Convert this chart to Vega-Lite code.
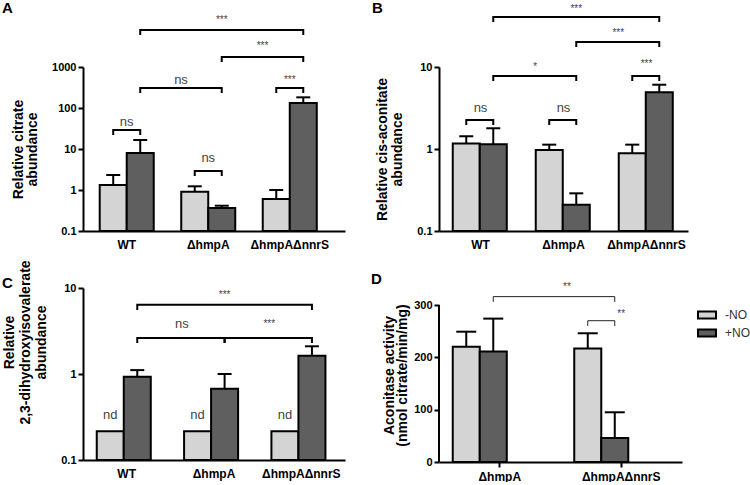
{
 "$schema": "https://vega.github.io/schema/vega-lite/v6.json",
 "padding": {"left": 2, "top": 0, "right": 0, "bottom": 0},
 "background": "white",
 "config": {
  "font": "Liberation Sans",
  "view": {"stroke": null},
  "axis": {"domainColor": "black", "domainWidth": 2, "tickColor": "black", "tickWidth": 2, "tickSize": 5, "labelFont": "Liberation Sans", "labelFontWeight": "bold", "labelFontSize": 11, "labelColor": "black", "labelPadding": 2, "titleFont": "Liberation Sans", "titleFontWeight": "bold", "titleFontSize": 14, "titleColor": "black", "grid": false},
  "axisX": {"ticks": false, "labelFontSize": 12, "labelPadding": 8, "labelAngle": 0},
  "title": {"font": "Liberation Sans", "fontSize": 15, "fontWeight": "bold", "color": "black", "anchor": "start", "frame": "group"}
 },
 "datasets": {
  "bars": [
   {"panel": "A", "group": "WT", "cond": "-NO", "value": 1.32, "upper": 2.32},
   {"panel": "A", "group": "WT", "cond": "+NO", "value": 7.99, "upper": 16.6},
   {"panel": "A", "group": "ΔhmpA", "cond": "-NO", "value": 0.91, "upper": 1.23},
   {"panel": "A", "group": "ΔhmpA", "cond": "+NO", "value": 0.364, "upper": 0.414},
   {"panel": "A", "group": "ΔhmpAΔnnrS", "cond": "-NO", "value": 0.603, "upper": 1.0},
   {"panel": "A", "group": "ΔhmpAΔnnrS", "cond": "+NO", "value": 132, "upper": 182},
   {"panel": "B", "group": "WT", "cond": "-NO", "value": 1.17, "upper": 1.43},
   {"panel": "B", "group": "WT", "cond": "+NO", "value": 1.14, "upper": 1.79},
   {"panel": "B", "group": "ΔhmpA", "cond": "-NO", "value": 0.97, "upper": 1.13},
   {"panel": "B", "group": "ΔhmpA", "cond": "+NO", "value": 0.209, "upper": 0.288},
   {"panel": "B", "group": "ΔhmpAΔnnrS", "cond": "-NO", "value": 0.887, "upper": 1.13},
   {"panel": "B", "group": "ΔhmpAΔnnrS", "cond": "+NO", "value": 4.91, "upper": 6.08},
   {"panel": "C", "group": "WT", "cond": "-NO", "value": 0.216, "upper": null},
   {"panel": "C", "group": "WT", "cond": "+NO", "value": 0.93, "upper": 1.11},
   {"panel": "C", "group": "ΔhmpA", "cond": "-NO", "value": 0.216, "upper": null},
   {"panel": "C", "group": "ΔhmpA", "cond": "+NO", "value": 0.675, "upper": 1.0},
   {"panel": "C", "group": "ΔhmpAΔnnrS", "cond": "-NO", "value": 0.216, "upper": null},
   {"panel": "C", "group": "ΔhmpAΔnnrS", "cond": "+NO", "value": 1.63, "upper": 2.1},
   {"panel": "D", "group": "ΔhmpA", "cond": "-NO", "value": 220, "upper": 249},
   {"panel": "D", "group": "ΔhmpA", "cond": "+NO", "value": 211, "upper": 274},
   {"panel": "D", "group": "ΔhmpAΔnnrS", "cond": "-NO", "value": 217, "upper": 246},
   {"panel": "D", "group": "ΔhmpAΔnnrS", "cond": "+NO", "value": 46, "upper": 95}
  ],
  "axisline": [
   {"panel": "D", "group": "ΔhmpA", "lo": 0, "hi": 300}
  ],
  "brackets": [
   {"panel": "A", "id": "a1", "group": "WT", "cond": "-NO", "y": 21.9, "i": 0},
   {"panel": "A", "id": "a1", "group": "WT", "cond": "-NO", "y": 29.1, "i": 1},
   {"panel": "A", "id": "a1", "group": "WT", "cond": "+NO", "y": 29.1, "i": 2},
   {"panel": "A", "id": "a1", "group": "WT", "cond": "+NO", "y": 21.9, "i": 3},
   {"panel": "A", "id": "a2", "group": "ΔhmpA", "cond": "-NO", "y": 2.19, "i": 0},
   {"panel": "A", "id": "a2", "group": "ΔhmpA", "cond": "-NO", "y": 2.91, "i": 1},
   {"panel": "A", "id": "a2", "group": "ΔhmpA", "cond": "+NO", "y": 2.91, "i": 2},
   {"panel": "A", "id": "a2", "group": "ΔhmpA", "cond": "+NO", "y": 2.19, "i": 3},
   {"panel": "A", "id": "a3", "group": "WT", "cond": "+NO", "y": 232, "i": 0},
   {"panel": "A", "id": "a3", "group": "WT", "cond": "+NO", "y": 307, "i": 1},
   {"panel": "A", "id": "a3", "group": "ΔhmpA", "cond": "+NO", "y": 307, "i": 2},
   {"panel": "A", "id": "a3", "group": "ΔhmpA", "cond": "+NO", "y": 232, "i": 3},
   {"panel": "A", "id": "a4", "group": "ΔhmpAΔnnrS", "cond": "-NO", "y": 232, "i": 0},
   {"panel": "A", "id": "a4", "group": "ΔhmpAΔnnrS", "cond": "-NO", "y": 307, "i": 1},
   {"panel": "A", "id": "a4", "group": "ΔhmpAΔnnrS", "cond": "+NO", "y": 307, "i": 2},
   {"panel": "A", "id": "a4", "group": "ΔhmpAΔnnrS", "cond": "+NO", "y": 232, "i": 3},
   {"panel": "A", "id": "a5", "group": "ΔhmpA", "cond": "+NO", "y": 1324, "i": 0},
   {"panel": "A", "id": "a5", "group": "ΔhmpA", "cond": "+NO", "y": 1754, "i": 1},
   {"panel": "A", "id": "a5", "group": "ΔhmpAΔnnrS", "cond": "+NO", "y": 1754, "i": 2},
   {"panel": "A", "id": "a5", "group": "ΔhmpAΔnnrS", "cond": "+NO", "y": 1324, "i": 3},
   {"panel": "A", "id": "a6", "group": "WT", "cond": "+NO", "y": 6030, "i": 0},
   {"panel": "A", "id": "a6", "group": "WT", "cond": "+NO", "y": 7985, "i": 1},
   {"panel": "A", "id": "a6", "group": "ΔhmpAΔnnrS", "cond": "+NO", "y": 7985, "i": 2},
   {"panel": "A", "id": "a6", "group": "ΔhmpAΔnnrS", "cond": "+NO", "y": 6030, "i": 3},
   {"panel": "B", "id": "b1", "group": "WT", "cond": "-NO", "y": 1.96, "i": 0},
   {"panel": "B", "id": "b1", "group": "WT", "cond": "-NO", "y": 2.26, "i": 1},
   {"panel": "B", "id": "b1", "group": "WT", "cond": "+NO", "y": 2.26, "i": 2},
   {"panel": "B", "id": "b1", "group": "WT", "cond": "+NO", "y": 1.96, "i": 3},
   {"panel": "B", "id": "b2", "group": "ΔhmpA", "cond": "-NO", "y": 1.96, "i": 0},
   {"panel": "B", "id": "b2", "group": "ΔhmpA", "cond": "-NO", "y": 2.26, "i": 1},
   {"panel": "B", "id": "b2", "group": "ΔhmpA", "cond": "+NO", "y": 2.26, "i": 2},
   {"panel": "B", "id": "b2", "group": "ΔhmpA", "cond": "+NO", "y": 1.96, "i": 3},
   {"panel": "B", "id": "b3", "group": "WT", "cond": "+NO", "y": 6.75, "i": 0},
   {"panel": "B", "id": "b3", "group": "WT", "cond": "+NO", "y": 7.77, "i": 1},
   {"panel": "B", "id": "b3", "group": "ΔhmpA", "cond": "+NO", "y": 7.77, "i": 2},
   {"panel": "B", "id": "b3", "group": "ΔhmpA", "cond": "+NO", "y": 6.75, "i": 3},
   {"panel": "B", "id": "b4", "group": "ΔhmpAΔnnrS", "cond": "-NO", "y": 6.75, "i": 0},
   {"panel": "B", "id": "b4", "group": "ΔhmpAΔnnrS", "cond": "-NO", "y": 7.77, "i": 1},
   {"panel": "B", "id": "b4", "group": "ΔhmpAΔnnrS", "cond": "+NO", "y": 7.77, "i": 2},
   {"panel": "B", "id": "b4", "group": "ΔhmpAΔnnrS", "cond": "+NO", "y": 6.75, "i": 3},
   {"panel": "B", "id": "b5", "group": "ΔhmpA", "cond": "+NO", "y": 17.5, "i": 0},
   {"panel": "B", "id": "b5", "group": "ΔhmpA", "cond": "+NO", "y": 20.2, "i": 1},
   {"panel": "B", "id": "b5", "group": "ΔhmpAΔnnrS", "cond": "+NO", "y": 20.2, "i": 2},
   {"panel": "B", "id": "b5", "group": "ΔhmpAΔnnrS", "cond": "+NO", "y": 17.5, "i": 3},
   {"panel": "B", "id": "b6", "group": "WT", "cond": "+NO", "y": 35.4, "i": 0},
   {"panel": "B", "id": "b6", "group": "WT", "cond": "+NO", "y": 40.7, "i": 1},
   {"panel": "B", "id": "b6", "group": "ΔhmpAΔnnrS", "cond": "+NO", "y": 40.7, "i": 2},
   {"panel": "B", "id": "b6", "group": "ΔhmpAΔnnrS", "cond": "+NO", "y": 35.4, "i": 3},
   {"panel": "C", "id": "c1", "group": "WT", "cond": "+NO", "y": 2.29, "i": 0},
   {"panel": "C", "id": "c1", "group": "WT", "cond": "+NO", "y": 2.62, "i": 1},
   {"panel": "C", "id": "c1", "group": "ΔhmpA", "cond": "+NO", "y": 2.62, "i": 2},
   {"panel": "C", "id": "c1", "group": "ΔhmpA", "cond": "+NO", "y": 2.29, "i": 3},
   {"panel": "C", "id": "c2", "group": "ΔhmpA", "cond": "+NO", "y": 2.29, "i": 0},
   {"panel": "C", "id": "c2", "group": "ΔhmpA", "cond": "+NO", "y": 2.62, "i": 1},
   {"panel": "C", "id": "c2", "group": "ΔhmpAΔnnrS", "cond": "+NO", "y": 2.62, "i": 2},
   {"panel": "C", "id": "c2", "group": "ΔhmpAΔnnrS", "cond": "+NO", "y": 2.29, "i": 3},
   {"panel": "C", "id": "c3", "group": "WT", "cond": "+NO", "y": 5.55, "i": 0},
   {"panel": "C", "id": "c3", "group": "WT", "cond": "+NO", "y": 6.4, "i": 1},
   {"panel": "C", "id": "c3", "group": "ΔhmpAΔnnrS", "cond": "+NO", "y": 6.4, "i": 2},
   {"panel": "C", "id": "c3", "group": "ΔhmpAΔnnrS", "cond": "+NO", "y": 5.55, "i": 3},
   {"panel": "D", "id": "d1", "group": "ΔhmpA", "cond": "+NO", "y": 306, "i": 0},
   {"panel": "D", "id": "d1", "group": "ΔhmpA", "cond": "+NO", "y": 316, "i": 1},
   {"panel": "D", "id": "d1", "group": "ΔhmpAΔnnrS", "cond": "+NO", "y": 316, "i": 2},
   {"panel": "D", "id": "d1", "group": "ΔhmpAΔnnrS", "cond": "+NO", "y": 306, "i": 3},
   {"panel": "D", "id": "d2", "group": "ΔhmpAΔnnrS", "cond": "-NO", "y": 260, "i": 0},
   {"panel": "D", "id": "d2", "group": "ΔhmpAΔnnrS", "cond": "-NO", "y": 270, "i": 1},
   {"panel": "D", "id": "d2", "group": "ΔhmpAΔnnrS", "cond": "+NO", "y": 270, "i": 2},
   {"panel": "D", "id": "d2", "group": "ΔhmpAΔnnrS", "cond": "+NO", "y": 260, "i": 3}
  ],
  "labels": [
   {"panel": "A", "kind": "c", "group": "WT", "cond": "-NO", "y": 37.0, "label": "ns"},
   {"panel": "A", "kind": "c", "group": "ΔhmpA", "cond": "-NO", "y": 4.82, "label": "ns"},
   {"panel": "A", "kind": "c", "group": "ΔhmpAΔnnrS", "cond": "-NO", "y": 407, "label": "***"},
   {"panel": "A", "kind": "a", "group": "ΔhmpA", "cond": "-NO", "y": 385, "label": "ns"},
   {"panel": "A", "kind": "a", "group": "ΔhmpAΔnnrS", "cond": "-NO", "y": 2750, "label": "***"},
   {"panel": "A", "kind": "o", "group": "ΔhmpA", "cond": "+NO", "y": 11840, "label": "***"},
   {"panel": "B", "kind": "c", "group": "WT", "cond": "-NO", "y": 2.8, "label": "ns"},
   {"panel": "B", "kind": "c", "group": "ΔhmpA", "cond": "-NO", "y": 2.8, "label": "ns"},
   {"panel": "B", "kind": "c", "group": "ΔhmpAΔnnrS", "cond": "-NO", "y": 10, "label": "***"},
   {"panel": "B", "kind": "a", "group": "ΔhmpA", "cond": "-NO", "y": 9.19, "label": "*"},
   {"panel": "B", "kind": "a", "group": "ΔhmpAΔnnrS", "cond": "-NO", "y": 23.9, "label": "***"},
   {"panel": "B", "kind": "o", "group": "ΔhmpA", "cond": "+NO", "y": 46.8, "label": "***"},
   {"panel": "C", "kind": "o", "group": "WT", "cond": "-NO", "y": 0.3, "label": "nd"},
   {"panel": "C", "kind": "o", "group": "ΔhmpA", "cond": "-NO", "y": 0.3, "label": "nd"},
   {"panel": "C", "kind": "o", "group": "ΔhmpAΔnnrS", "cond": "-NO", "y": 0.3, "label": "nd"},
   {"panel": "C", "kind": "a", "group": "ΔhmpA", "cond": "-NO", "y": 3.4, "label": "ns"},
   {"panel": "C", "kind": "a", "group": "ΔhmpAΔnnrS", "cond": "-NO", "y": 3.52, "label": "***"},
   {"panel": "C", "kind": "o", "group": "ΔhmpA", "cond": "+NO", "y": 7.65, "label": "***"},
   {"panel": "D", "kind": "c", "group": "ΔhmpAΔnnrS", "cond": "-NO", "y": 277, "label": "**"},
   {"panel": "D", "kind": "a", "group": "ΔhmpAΔnnrS", "cond": "-NO", "y": 329, "label": "**"}
  ]
 },
 "bounds": "flush",
 "columns": 2,
 "spacing": {"row": 57, "column": 94},
 "resolve": {"scale": {"fill": "independent"}, "legend": {"fill": "independent"}},
 "concat": [
  {
   "width": 262, "height": 164,
   "title": {"text": "A", "dx": -81, "dy": 5},
   "encoding": {"x": {"field": "group", "type": "nominal", "sort": null, "title": null, "scale": {"domain": ["WT", "ΔhmpA", "ΔhmpAΔnnrS"], "paddingInner": 0, "paddingOuter": 0.107, "align": 0.17}}},
   "layer": [
    {"data": {"name": "bars"}, "transform": [{"filter": "datum.panel === 'A'"}],
     "mark": {"type": "bar", "stroke": "black", "strokeWidth": 2},
     "encoding": {
      "xOffset": {"field": "cond", "type": "nominal", "scale": {"domain": ["-NO", "+NO"], "paddingInner": 0, "paddingOuter": 0.509}},
      "y": {"field": "value", "type": "quantitative", "title": ["Relative citrate", "abundance"], "scale": {"type": "log", "domain": [0.1, 1000], "nice": false}, "axis": {"values": [0.1, 1, 10, 100, 1000], "format": "~g", "titlePadding": 12, "titleLineHeight": 14}},
      "y2": {"datum": 0.1},
      "fill": {"field": "cond", "type": "nominal", "scale": {"domain": ["-NO", "+NO"], "range": ["#d4d4d4", "#5f5f5f"]}, "legend": null}
     }},
    {"data": {"name": "bars"}, "transform": [{"filter": "datum.panel === 'A' && datum.upper != null"}],
     "mark": {"type": "rule", "stroke": "black", "strokeWidth": 2},
     "encoding": {
      "xOffset": {"field": "cond", "type": "nominal", "scale": {"domain": ["-NO", "+NO"], "paddingInner": 0, "paddingOuter": 0.509}},
      "y": {"field": "value", "type": "quantitative", "title": ["Relative citrate", "abundance"], "scale": {"type": "log", "domain": [0.1, 1000], "nice": false}},
      "y2": {"field": "upper"}
     }},
    {"data": {"name": "bars"}, "transform": [{"filter": "datum.panel === 'A' && datum.upper != null"}],
     "mark": {"type": "point", "shape": "M-1,0H1", "size": 196, "stroke": "black", "strokeWidth": 2, "filled": false, "opacity": 1},
     "encoding": {
      "xOffset": {"field": "cond", "type": "nominal", "scale": {"domain": ["-NO", "+NO"], "paddingInner": 0, "paddingOuter": 0.509}},
      "y": {"field": "upper", "type": "quantitative", "title": ["Relative citrate", "abundance"], "scale": {"type": "log", "domain": [0.1, 1000], "nice": false}}
     }},
    {"data": {"name": "brackets"}, "transform": [{"filter": "datum.panel === 'A'"}],
     "mark": {"type": "line", "color": "black", "strokeWidth": 2},
     "encoding": {
      "xOffset": {"field": "cond", "type": "nominal", "scale": {"domain": ["-NO", "+NO"], "paddingInner": 0, "paddingOuter": 0.509}},
      "y": {"field": "y", "type": "quantitative", "title": ["Relative citrate", "abundance"], "scale": {"type": "log", "domain": [0.1, 1000], "nice": false}},
      "detail": {"field": "id"},
      "order": {"field": "i", "type": "quantitative"}
     }},
    {"data": {"name": "labels"}, "transform": [{"filter": "datum.panel === 'A' && datum.kind === 'c'"}],
     "mark": {"type": "text", "baseline": "alphabetic", "color": "#444"},
     "encoding": {
      "y": {"field": "y", "type": "quantitative", "title": ["Relative citrate", "abundance"], "scale": {"type": "log", "domain": [0.1, 1000], "nice": false}},
      "text": {"field": "label"},
      "size": {"condition": {"test": "datum.label === 'ns' || datum.label === 'nd'", "value": 13}, "value": 10}
     }},
    {"data": {"name": "labels"}, "transform": [{"filter": "datum.panel === 'A' && datum.kind === 'o'"}],
     "mark": {"type": "text", "baseline": "alphabetic", "color": "#444"},
     "encoding": {
      "xOffset": {"field": "cond", "type": "nominal", "scale": {"domain": ["-NO", "+NO"], "paddingInner": 0, "paddingOuter": 0.509}},
      "y": {"field": "y", "type": "quantitative", "title": ["Relative citrate", "abundance"], "scale": {"type": "log", "domain": [0.1, 1000], "nice": false}},
      "text": {"field": "label"},
      "size": {"condition": {"test": "datum.label === 'ns' || datum.label === 'nd'", "value": 13}, "value": 10}
     }},
    {"data": {"name": "labels"}, "transform": [{"filter": "datum.panel === 'A' && datum.kind === 'a'"}],
     "mark": {"type": "text", "baseline": "alphabetic", "color": "#444", "dx": -13.75},
     "encoding": {
      "xOffset": {"field": "cond", "type": "nominal", "scale": {"domain": ["-NO", "+NO"], "paddingInner": 0, "paddingOuter": 0.509}},
      "y": {"field": "y", "type": "quantitative", "title": ["Relative citrate", "abundance"], "scale": {"type": "log", "domain": [0.1, 1000], "nice": false}},
      "text": {"field": "label"},
      "size": {"condition": {"test": "datum.label === 'ns' || datum.label === 'nd'", "value": 13}, "value": 10}
     }}
   ]
  },
  {
   "width": 249, "height": 164,
   "title": {"text": "B", "dx": -67, "dy": 16},
   "encoding": {"x": {"field": "group", "type": "nominal", "sort": null, "title": null, "scale": {"domain": ["WT", "ΔhmpA", "ΔhmpAΔnnrS"], "paddingInner": 0, "paddingOuter": 0}}},
   "layer": [
    {"data": {"name": "bars"}, "transform": [{"filter": "datum.panel === 'B'"}],
     "mark": {"type": "bar", "stroke": "black", "strokeWidth": 2},
     "encoding": {
      "xOffset": {"field": "cond", "type": "nominal", "scale": {"domain": ["-NO", "+NO"], "paddingInner": 0, "paddingOuter": 0.509}},
      "y": {"field": "value", "type": "quantitative", "title": ["Relative cis-aconitate", "abundance"], "scale": {"type": "log", "domain": [0.1, 10], "nice": false}, "axis": {"values": [0.1, 1, 10], "format": "~g", "titlePadding": 12, "titleLineHeight": 15}},
      "y2": {"datum": 0.1},
      "fill": {"field": "cond", "type": "nominal", "scale": {"domain": ["-NO", "+NO"], "range": ["#d4d4d4", "#5f5f5f"]}, "legend": null}
     }},
    {"data": {"name": "bars"}, "transform": [{"filter": "datum.panel === 'B' && datum.upper != null"}],
     "mark": {"type": "rule", "stroke": "black", "strokeWidth": 2},
     "encoding": {
      "xOffset": {"field": "cond", "type": "nominal", "scale": {"domain": ["-NO", "+NO"], "paddingInner": 0, "paddingOuter": 0.509}},
      "y": {"field": "value", "type": "quantitative", "title": ["Relative cis-aconitate", "abundance"], "scale": {"type": "log", "domain": [0.1, 10], "nice": false}},
      "y2": {"field": "upper"}
     }},
    {"data": {"name": "bars"}, "transform": [{"filter": "datum.panel === 'B' && datum.upper != null"}],
     "mark": {"type": "point", "shape": "M-1,0H1", "size": 196, "stroke": "black", "strokeWidth": 2, "filled": false, "opacity": 1},
     "encoding": {
      "xOffset": {"field": "cond", "type": "nominal", "scale": {"domain": ["-NO", "+NO"], "paddingInner": 0, "paddingOuter": 0.509}},
      "y": {"field": "upper", "type": "quantitative", "title": ["Relative cis-aconitate", "abundance"], "scale": {"type": "log", "domain": [0.1, 10], "nice": false}}
     }},
    {"data": {"name": "brackets"}, "transform": [{"filter": "datum.panel === 'B'"}],
     "mark": {"type": "line", "color": "black", "strokeWidth": 2},
     "encoding": {
      "xOffset": {"field": "cond", "type": "nominal", "scale": {"domain": ["-NO", "+NO"], "paddingInner": 0, "paddingOuter": 0.509}},
      "y": {"field": "y", "type": "quantitative", "title": ["Relative cis-aconitate", "abundance"], "scale": {"type": "log", "domain": [0.1, 10], "nice": false}},
      "detail": {"field": "id"},
      "order": {"field": "i", "type": "quantitative"}
     }},
    {"data": {"name": "labels"}, "transform": [{"filter": "datum.panel === 'B' && datum.kind === 'c'"}],
     "mark": {"type": "text", "baseline": "alphabetic", "color": "#444"},
     "encoding": {
      "y": {"field": "y", "type": "quantitative", "title": ["Relative cis-aconitate", "abundance"], "scale": {"type": "log", "domain": [0.1, 10], "nice": false}},
      "text": {"field": "label"},
      "size": {"condition": {"test": "datum.label === 'ns' || datum.label === 'nd'", "value": 13}, "value": 10}
     }},
    {"data": {"name": "labels"}, "transform": [{"filter": "datum.panel === 'B' && datum.kind === 'o'"}],
     "mark": {"type": "text", "baseline": "alphabetic", "color": "#444"},
     "encoding": {
      "xOffset": {"field": "cond", "type": "nominal", "scale": {"domain": ["-NO", "+NO"], "paddingInner": 0, "paddingOuter": 0.509}},
      "y": {"field": "y", "type": "quantitative", "title": ["Relative cis-aconitate", "abundance"], "scale": {"type": "log", "domain": [0.1, 10], "nice": false}},
      "text": {"field": "label"},
      "size": {"condition": {"test": "datum.label === 'ns' || datum.label === 'nd'", "value": 13}, "value": 10}
     }},
    {"data": {"name": "labels"}, "transform": [{"filter": "datum.panel === 'B' && datum.kind === 'a'"}],
     "mark": {"type": "text", "baseline": "alphabetic", "color": "#444", "dx": -14},
     "encoding": {
      "xOffset": {"field": "cond", "type": "nominal", "scale": {"domain": ["-NO", "+NO"], "paddingInner": 0, "paddingOuter": 0.509}},
      "y": {"field": "y", "type": "quantitative", "title": ["Relative cis-aconitate", "abundance"], "scale": {"type": "log", "domain": [0.1, 10], "nice": false}},
      "text": {"field": "label"},
      "size": {"condition": {"test": "datum.label === 'ns' || datum.label === 'nd'", "value": 13}, "value": 10}
     }}
   ]
  },
  {
   "width": 262, "height": 172,
   "title": {"text": "C", "dx": -81, "dy": 35},
   "encoding": {"x": {"field": "group", "type": "nominal", "sort": null, "title": null, "scale": {"domain": ["WT", "ΔhmpA", "ΔhmpAΔnnrS"], "paddingInner": 0, "paddingOuter": 0}}},
   "layer": [
    {"data": {"name": "bars"}, "transform": [{"filter": "datum.panel === 'C'"}],
     "mark": {"type": "bar", "stroke": "black", "strokeWidth": 2},
     "encoding": {
      "xOffset": {"field": "cond", "type": "nominal", "scale": {"domain": ["-NO", "+NO"], "paddingInner": 0, "paddingOuter": 0.559}},
      "y": {"field": "value", "type": "quantitative", "title": ["Relative", "2,3-dihydroxyisovalerate", "abundance"], "scale": {"type": "log", "domain": [0.1, 10], "nice": false}, "axis": {"values": [0.1, 1, 10], "format": "~g", "titlePadding": 12, "titleLineHeight": 16, "titleY": 54}},
      "y2": {"datum": 0.1},
      "fill": {"field": "cond", "type": "nominal", "scale": {"domain": ["-NO", "+NO"], "range": ["#d4d4d4", "#5f5f5f"]}, "legend": null}
     }},
    {"data": {"name": "bars"}, "transform": [{"filter": "datum.panel === 'C' && datum.upper != null"}],
     "mark": {"type": "rule", "stroke": "black", "strokeWidth": 2},
     "encoding": {
      "xOffset": {"field": "cond", "type": "nominal", "scale": {"domain": ["-NO", "+NO"], "paddingInner": 0, "paddingOuter": 0.559}},
      "y": {"field": "value", "type": "quantitative", "title": ["Relative", "2,3-dihydroxyisovalerate", "abundance"], "scale": {"type": "log", "domain": [0.1, 10], "nice": false}},
      "y2": {"field": "upper"}
     }},
    {"data": {"name": "bars"}, "transform": [{"filter": "datum.panel === 'C' && datum.upper != null"}],
     "mark": {"type": "point", "shape": "M-1,0H1", "size": 196, "stroke": "black", "strokeWidth": 2, "filled": false, "opacity": 1},
     "encoding": {
      "xOffset": {"field": "cond", "type": "nominal", "scale": {"domain": ["-NO", "+NO"], "paddingInner": 0, "paddingOuter": 0.559}},
      "y": {"field": "upper", "type": "quantitative", "title": ["Relative", "2,3-dihydroxyisovalerate", "abundance"], "scale": {"type": "log", "domain": [0.1, 10], "nice": false}}
     }},
    {"data": {"name": "brackets"}, "transform": [{"filter": "datum.panel === 'C'"}],
     "mark": {"type": "line", "color": "black", "strokeWidth": 2},
     "encoding": {
      "xOffset": {"field": "cond", "type": "nominal", "scale": {"domain": ["-NO", "+NO"], "paddingInner": 0, "paddingOuter": 0.559}},
      "y": {"field": "y", "type": "quantitative", "title": ["Relative", "2,3-dihydroxyisovalerate", "abundance"], "scale": {"type": "log", "domain": [0.1, 10], "nice": false}},
      "detail": {"field": "id"},
      "order": {"field": "i", "type": "quantitative"}
     }},
    {"data": {"name": "labels"}, "transform": [{"filter": "datum.panel === 'C' && datum.kind === 'o'"}],
     "mark": {"type": "text", "baseline": "alphabetic", "color": "#444"},
     "encoding": {
      "xOffset": {"field": "cond", "type": "nominal", "scale": {"domain": ["-NO", "+NO"], "paddingInner": 0, "paddingOuter": 0.559}},
      "y": {"field": "y", "type": "quantitative", "title": ["Relative", "2,3-dihydroxyisovalerate", "abundance"], "scale": {"type": "log", "domain": [0.1, 10], "nice": false}},
      "text": {"field": "label"},
      "size": {"condition": {"test": "datum.label === 'ns' || datum.label === 'nd'", "value": 13}, "value": 10}
     }},
    {"data": {"name": "labels"}, "transform": [{"filter": "datum.panel === 'C' && datum.kind === 'a'"}],
     "mark": {"type": "text", "baseline": "alphabetic", "color": "#444", "dx": -15.67},
     "encoding": {
      "xOffset": {"field": "cond", "type": "nominal", "scale": {"domain": ["-NO", "+NO"], "paddingInner": 0, "paddingOuter": 0.559}},
      "y": {"field": "y", "type": "quantitative", "title": ["Relative", "2,3-dihydroxyisovalerate", "abundance"], "scale": {"type": "log", "domain": [0.1, 10], "nice": false}},
      "text": {"field": "label"},
      "size": {"condition": {"test": "datum.label === 'ns' || datum.label === 'nd'", "value": 13}, "value": 10}
     }}
   ]
  },
  {
   "width": 243, "height": 174,
   "title": {"text": "D", "dx": -68, "dy": 9},
   "encoding": {"x": {"field": "group", "type": "nominal", "sort": null, "title": null, "scale": {"domain": ["ΔhmpA", "ΔhmpAΔnnrS"], "paddingInner": 0, "paddingOuter": 0}, "axis": {"ticks": true, "labelPadding": 4}}},
   "layer": [
    {"data": {"name": "bars"}, "transform": [{"filter": "datum.panel === 'D'"}],
     "mark": {"type": "bar", "stroke": "black", "strokeWidth": 2},
     "encoding": {
      "xOffset": {"field": "cond", "type": "nominal", "scale": {"domain": ["-NO", "+NO"], "paddingInner": 0, "paddingOuter": 0.519}},
      "y": {"field": "value", "type": "quantitative", "title": ["Aconitase activity", "(nmol citrate/min/mg)"], "scale": {"domain": [0, 332.5], "nice": false}, "axis": {"values": [0, 100, 200, 300], "domain": false, "titlePadding": 4, "titleLineHeight": 13}},
      "fill": {"field": "cond", "type": "nominal", "scale": {"domain": ["-NO", "+NO"], "range": ["#d4d4d4", "#5f5f5f"]}, "legend": {"title": null, "orient": "none", "legendX": 258, "legendY": 17, "symbolType": "M-1,-0.4H1V0.4H-1Z", "symbolSize": 324, "symbolStrokeColor": "black", "symbolStrokeWidth": 2, "labelFontSize": 12, "labelFont": "Liberation Sans", "labelColor": "#333", "labelOffset": 8, "rowPadding": 0}}
     }},
    {"data": {"name": "axisline"}, "transform": [{"filter": "datum.panel === 'D'"}],
     "mark": {"type": "rule", "stroke": "black", "strokeWidth": 2},
     "encoding": {
      "x": {"field": "group", "type": "nominal", "bandPosition": 0},
      "y": {"field": "lo", "type": "quantitative", "title": ["Aconitase activity", "(nmol citrate/min/mg)"], "scale": {"domain": [0, 332.5], "nice": false}},
      "y2": {"field": "hi"}
     }},
    {"data": {"name": "bars"}, "transform": [{"filter": "datum.panel === 'D' && datum.upper != null"}],
     "mark": {"type": "rule", "stroke": "black", "strokeWidth": 2},
     "encoding": {
      "xOffset": {"field": "cond", "type": "nominal", "scale": {"domain": ["-NO", "+NO"], "paddingInner": 0, "paddingOuter": 0.519}},
      "y": {"field": "value", "type": "quantitative", "title": ["Aconitase activity", "(nmol citrate/min/mg)"], "scale": {"domain": [0, 332.5], "nice": false}},
      "y2": {"field": "upper"}
     }},
    {"data": {"name": "bars"}, "transform": [{"filter": "datum.panel === 'D' && datum.upper != null"}],
     "mark": {"type": "point", "shape": "M-1,0H1", "size": 400, "stroke": "black", "strokeWidth": 2, "filled": false, "opacity": 1},
     "encoding": {
      "xOffset": {"field": "cond", "type": "nominal", "scale": {"domain": ["-NO", "+NO"], "paddingInner": 0, "paddingOuter": 0.519}},
      "y": {"field": "upper", "type": "quantitative", "title": ["Aconitase activity", "(nmol citrate/min/mg)"], "scale": {"domain": [0, 332.5], "nice": false}}
     }},
    {"data": {"name": "brackets"}, "transform": [{"filter": "datum.panel === 'D'"}],
     "mark": {"type": "line", "color": "#222", "strokeWidth": 1},
     "encoding": {
      "xOffset": {"field": "cond", "type": "nominal", "scale": {"domain": ["-NO", "+NO"], "paddingInner": 0, "paddingOuter": 0.519}},
      "y": {"field": "y", "type": "quantitative", "title": ["Aconitase activity", "(nmol citrate/min/mg)"], "scale": {"domain": [0, 332.5], "nice": false}},
      "detail": {"field": "id"},
      "order": {"field": "i", "type": "quantitative"}
     }},
    {"data": {"name": "labels"}, "transform": [{"filter": "datum.panel === 'D' && datum.kind === 'c'"}],
     "mark": {"type": "text", "baseline": "alphabetic", "color": "#444", "size": 10},
     "encoding": {
      "y": {"field": "y", "type": "quantitative", "title": ["Aconitase activity", "(nmol citrate/min/mg)"], "scale": {"domain": [0, 332.5], "nice": false}},
      "text": {"field": "label"}
     }},
    {"data": {"name": "labels"}, "transform": [{"filter": "datum.panel === 'D' && datum.kind === 'a'"}],
     "mark": {"type": "text", "baseline": "alphabetic", "color": "#444", "size": 10, "dx": -20.75},
     "encoding": {
      "xOffset": {"field": "cond", "type": "nominal", "scale": {"domain": ["-NO", "+NO"], "paddingInner": 0, "paddingOuter": 0.519}},
      "y": {"field": "y", "type": "quantitative", "title": ["Aconitase activity", "(nmol citrate/min/mg)"], "scale": {"domain": [0, 332.5], "nice": false}},
      "text": {"field": "label"}
     }}
   ]
  }
 ]
}
